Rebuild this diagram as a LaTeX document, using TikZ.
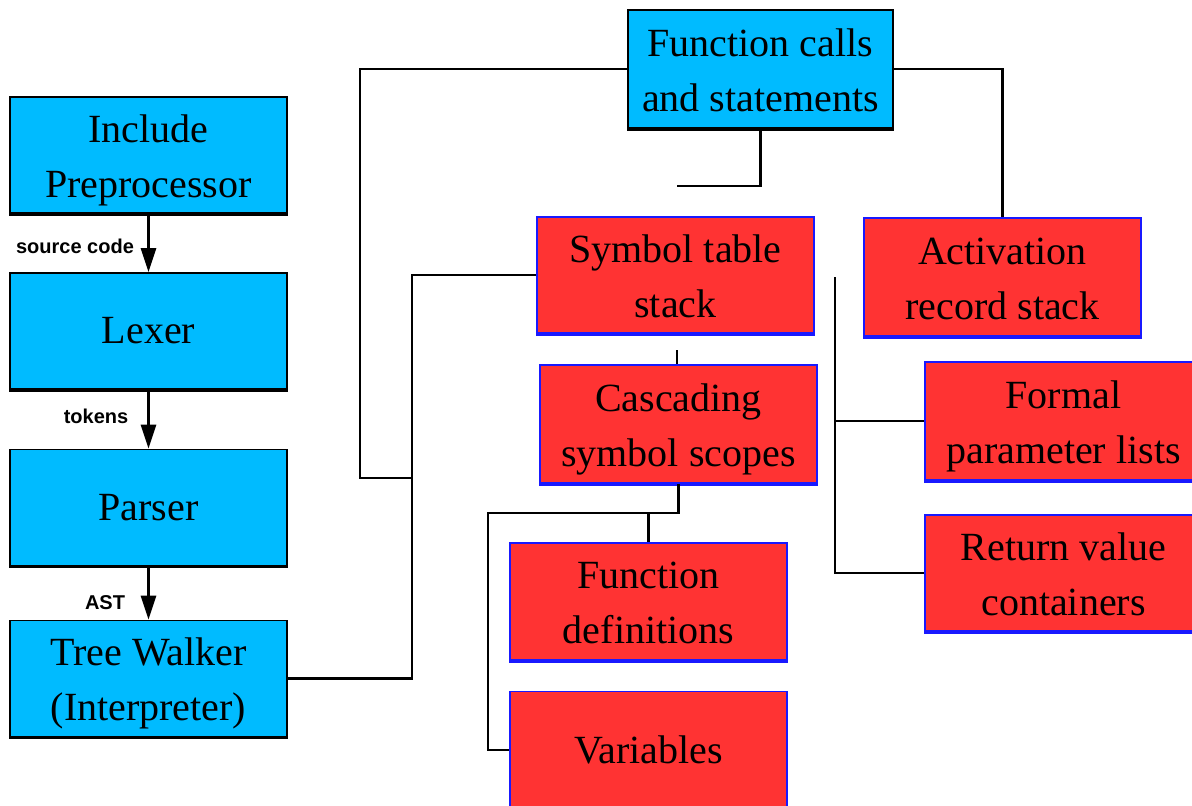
\documentclass[tikz,border=0pt]{standalone}
\usepackage{fontspec}
\setmainfont{Liberation Serif}
\setsansfont{Liberation Sans}
\usetikzlibrary{arrows.meta}
\definecolor{stageblue}{RGB}{0,187,255}
\definecolor{storered}{RGB}{255,51,51}
\definecolor{storeedge}{RGB}{25,25,255}
\newcommand{\boxsizex}{277pt}
\newcommand{\boxsizey}{116pt}
\newcommand{\linkwidth}{2.8pt}
\newcommand{\edgewidth}{1.6pt}
\newcommand{\shadewidth}{3.6pt}
\tikzset{
  stage/.style={draw=black, line width=\edgewidth, fill=stageblue,
    minimum width=\boxsizex, minimum height=\boxsizey, inner sep=0pt,
    align=center, font=\fontsize{40}{55}\selectfont},
  store/.style={stage, draw=storeedge, fill=storered},
  twoline/.style={text height=94pt, text depth=10pt},
  link/.style={line width=\linkwidth},
  flow/.style={link, -{Triangle[length=24pt,width=15pt]}},
  flowlabel/.style={font=\sffamily\bfseries\fontsize{20}{20}\selectfont, inner sep=0pt}
}

\begin{document}
\begin{tikzpicture}[x=1pt,y=-1pt]
    \useasboundingbox (0,0) rectangle (1192,806);
    % interpreter pipeline
    \node[stage, twoline] (inc) at (148.5,155) {Include\\Preprocessor};
    \node[stage] (lex) at (148.5,331) {Lexer};
    \node[stage] (par) at (148.5,507.5) {Parser};
    \node[stage, twoline] (walk) at (148.5,678.5) {Tree Walker\\(Interpreter)};
    \draw[flow] (inc.south) -- (lex.north);
    \draw[flow] (lex.south) -- (par.north);
    \draw[flow] (par.south) -- (walk.north);
    \node[flowlabel] (srclabel) at (75,246) {source code};
    \node[flowlabel] (toklabel) at (96,416) {tokens};
    \node[flowlabel] (astlabel) at (105,603) {AST};
    % function calls part
    \node[stage, twoline, minimum width=265pt, minimum height=118pt] (calls) at (760.5,69)
      {Function calls\\and statements};
    % symbol table part
    \node[store, twoline] (symtab) at (675.5,275) {Symbol table\\stack};
    \node[store, twoline, minimum height=118pt] (scopes) at (678.5,424) {Cascading\\symbol scopes};
    \node[store, twoline, minimum height=117pt] (fdefs) at (648.5,601.5) {Function\\definitions};
    \node[store, minimum height=117pt] (vars) at (648.5,750) {Variables};
    % activation record part
    \node[store, twoline, minimum height=118pt] (actrec) at (1002.5,277) {Activation\\record stack};
    \node[store, twoline, minimum height=118pt] (formal) at (1063.5,421) {Formal\\parameter lists};
    \node[store, twoline] (retval) at (1063.5,573) {Return value\\containers};
    % heavier bottom edges
    \foreach \n in {inc,lex,par,walk,calls}
      \draw[line width=\shadewidth] (\n.south west) -- (\n.south east);
    \foreach \n in {symtab,scopes,fdefs,actrec,formal,retval}
      \draw[line width=\shadewidth, storeedge] (\n.south west) -- (\n.south east);
    % connectors
    \coordinate (busl) at (412,478);
    \coordinate (callsl) at (360,478);
    \coordinate (callsend) at (677,186);
    \coordinate (symstub) at (677,350);
    \coordinate (varsbus) at (488,513);
    \coordinate (actbus) at (835,277);
    \draw[link] (walk.east) -| (busl) |- (symtab.west);
    \draw[link] (calls.west) -| (callsl) -- (busl);
    \draw[link] (calls.east) -| (actrec.north);
    \draw[link] (calls.south) |- (callsend);
    \draw[link] (symstub) -- (symstub |- scopes.north);
    \draw[link] (scopes.south) |- (varsbus) |- (vars.west);
    \draw[link] (fdefs.north) -- (fdefs.north |- varsbus);
    \draw[link] (actbus) |- (retval.west);
    \draw[link] (formal.west) -- (formal.west -| actbus);
\end{tikzpicture}
\end{document}
